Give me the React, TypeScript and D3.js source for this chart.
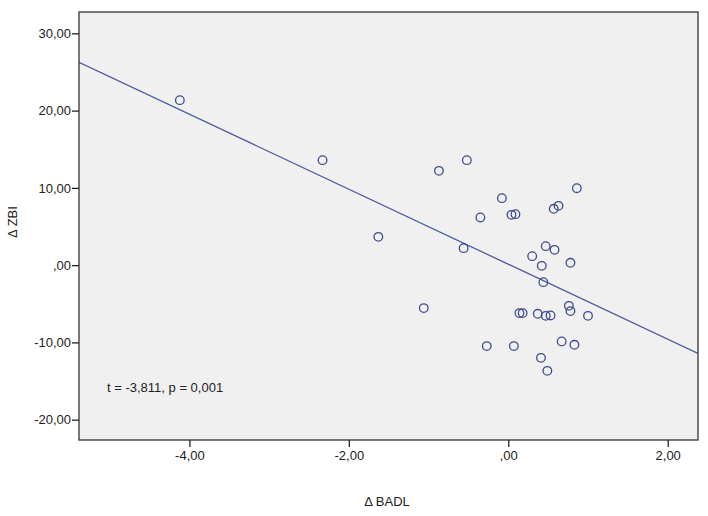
import React, { useEffect, useRef } from "react"
import { axisBottom, axisLeft, line, scaleLinear, select } from "d3"

// change in BADL (x) vs change in ZBI (y)
const badlChange = [
  -4.12, -2.33, -1.63, -1.06, -0.87, -0.56, -0.52, -0.35, -0.27, -0.08, 0.04, 0.09,
  0.07, 0.14, 0.18, 0.3, 0.37, 0.41, 0.42, 0.44, 0.47, 0.47, 0.49, 0.53, 0.57, 0.58,
  0.63, 0.67, 0.76, 0.78, 0.78, 0.83, 0.86, 1.0,
]
const zbiChange = [
  21.35, 13.59, 3.66, -5.56, 12.2, 2.2, 13.59, 6.17, -10.48, 8.67, 6.51, 6.6, -10.48,
  -6.21, -6.21, 1.16, -6.3, -12.0, -0.09, -2.2, -6.56, 2.46, -13.68, -6.51, 7.29, 1.98,
  7.67, -9.87, -5.27, -5.95, 0.3, -10.31, 9.96, -6.56,
]
const xTicks = [-4, -2, 0, 2]
const yTicks = [-20, -10, 0, 10, 20, 30]
const fitIntercept = 0.12
const fitSlope = -4.852
const annotation = "t = -3,811, p = 0,001"

const fmt = (v: number) => {
  const s = Math.abs(v).toFixed(2).replace(".", ",").replace(/^0,/, ",")
  return (v < 0 ? "-" : "") + s
}

const App = () => {
  const ref = useRef<SVGSVGElement>(null)

  useEffect(() => {
    const width = 708
    const height = 516
    const margins = { top: 12, right: 10, bottom: 76, left: 79 }
    const boundsWidth = width - margins.left - margins.right
    const boundsHeight = height - margins.top - margins.bottom

    const svg = select(ref.current)
    svg.selectAll("*").remove()

    const xScale = scaleLinear().domain([-5.385, 2.38]).range([0, boundsWidth])
    const yScale = scaleLinear().domain([-22.63, 32.76]).range([boundsHeight, 0])

    const bounds = svg
      .append("g")
      .attr("transform", `translate(${margins.left},${margins.top})`)

    // background
    bounds
      .append("rect")
      .attr("width", boundsWidth)
      .attr("height", boundsHeight)
      .attr("fill", "#f0f0f0")

    // clip
    svg
      .append("defs")
      .append("clipPath")
      .attr("id", "plot-clip")
      .append("rect")
      .attr("width", boundsWidth)
      .attr("height", boundsHeight)

    // fit line
    const [x0, x1] = xScale.domain()
    const fitLine = line<number>()
      .x((d) => xScale(d))
      .y((d) => yScale(fitIntercept + fitSlope * d))
    bounds
      .append("path")
      .attr("clip-path", "url(#plot-clip)")
      .attr("d", fitLine([x0, x1]))
      .attr("fill", "none")
      .attr("stroke", "#4b5a9e")
      .attr("stroke-width", 1.3)

    // points
    bounds
      .append("g")
      .selectAll("circle")
      .data(badlChange.map((x, i) => [x, zbiChange[i]]))
      .join("circle")
      .attr("cx", (d) => xScale(d[0]))
      .attr("cy", (d) => yScale(d[1]))
      .attr("r", 4.3)
      .attr("fill", "none")
      .attr("stroke", "#3f4c8f")
      .attr("stroke-width", 1.3)

    // frame
    bounds
      .append("rect")
      .attr("width", boundsWidth)
      .attr("height", boundsHeight)
      .attr("fill", "none")
      .attr("stroke", "#333")
      .attr("stroke-width", 1.3)

    // axes
    const yAxis = bounds
      .append("g")
      .call(axisLeft(yScale).tickValues(yTicks).tickFormat((d) => fmt(+d)).tickSize(7).tickSizeOuter(0))
    const xAxis = bounds
      .append("g")
      .attr("transform", `translate(0,${boundsHeight})`)
      .call(axisBottom(xScale).tickValues(xTicks).tickFormat((d) => fmt(+d)).tickSize(7).tickSizeOuter(0))
    ;[yAxis, xAxis].forEach((a) => {
      a.select(".domain").remove()
      a.selectAll("line").attr("stroke", "#222").attr("stroke-width", 1.3)
      a.selectAll("text")
        .attr("fill", "#222")
        .attr("font-family", "Liberation Sans, Arial, sans-serif")
        .attr("font-size", 13)
    })
    yAxis.selectAll("text").attr("x", -8)
    xAxis.selectAll("text").attr("y", 11)

    // annotation
    bounds
      .append("text")
      .attr("x", 107 - margins.left)
      .attr("y", 392 - margins.top)
      .attr("font-family", "Liberation Sans, Arial, sans-serif")
      .attr("font-size", 13)
      .attr("fill", "#222")
      .text(annotation)

    // axis titles
    svg
      .append("text")
      .attr("x", 387)
      .attr("y", 506)
      .attr("text-anchor", "middle")
      .attr("font-family", "Liberation Sans, Arial, sans-serif")
      .attr("font-size", 13)
      .attr("fill", "#222")
      .text("Δ BADL")
    svg
      .append("text")
      .attr("transform", "translate(17,222) rotate(-90)")
      .attr("text-anchor", "middle")
      .attr("font-family", "Liberation Sans, Arial, sans-serif")
      .attr("font-size", 13)
      .attr("fill", "#222")
      .text("Δ ZBI")
  }, [])

  return (
    <div style={{ position: "absolute", left: 0, top: 0, background: "#fff" }}>
      <svg ref={ref} width={708} height={516} style={{ display: "block" }} />
    </div>
  )
}

export default App
